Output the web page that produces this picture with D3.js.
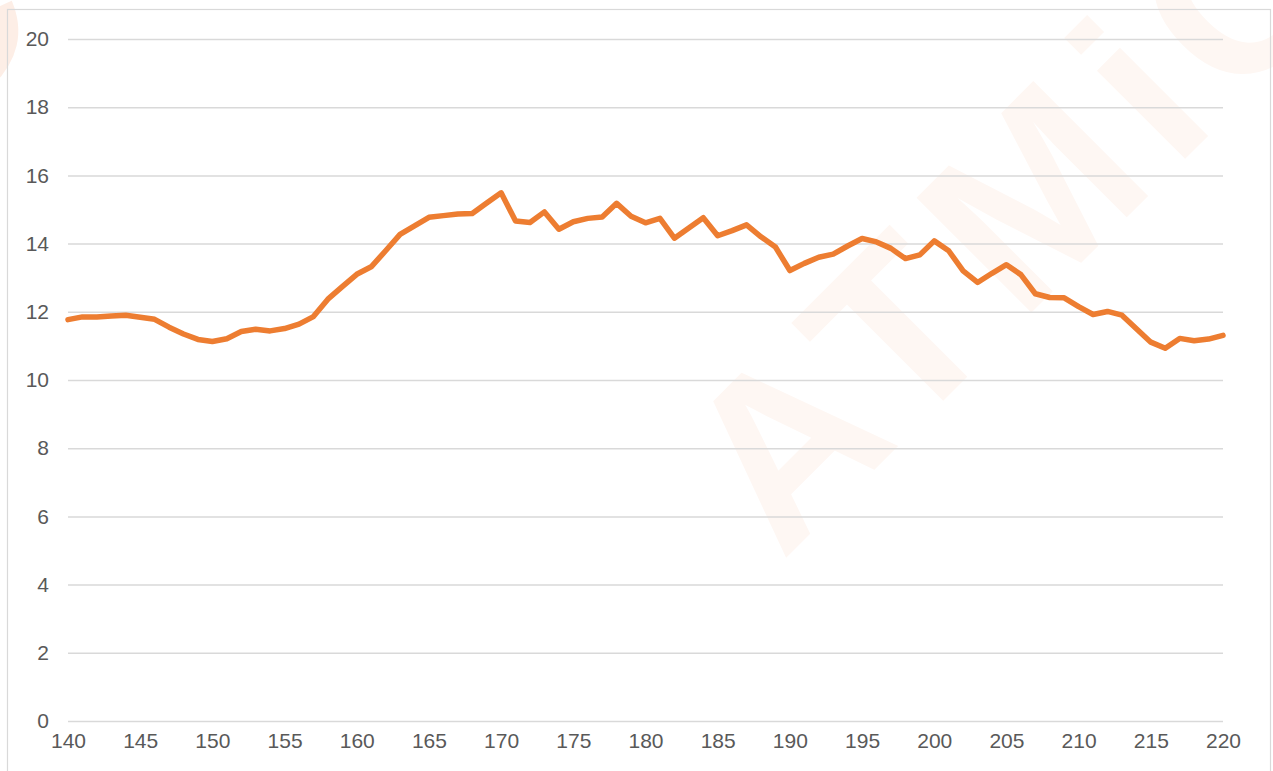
<!DOCTYPE html>
<html>
<head>
<meta charset="utf-8">
<script src="https://cdn.jsdelivr.net/npm/d3@7"></script>
<style>
  html, body { margin: 0; padding: 0; background: #fff; }
  svg { display: block; }
</style>
</head>
<body>
<svg id="chart" width="1273" height="771"></svg>
<script>
// ---- data ----
const xValues = d3.range(140, 221);
const yValues = [
  11.77, 11.85, 11.85, 11.88, 11.9, 11.84, 11.78, 11.55, 11.35, 11.19,
  11.13, 11.21, 11.42, 11.49, 11.44, 11.51, 11.64, 11.86, 12.37, 12.74,
  13.1, 13.32, 13.79, 14.27, 14.52, 14.77, 14.82, 14.87, 14.88, 15.19,
  15.49, 14.66, 14.62, 14.93, 14.42, 14.64, 14.74, 14.78, 15.18, 14.8,
  14.61, 14.74, 14.16, 14.46, 14.76, 14.23, 14.38, 14.55, 14.2, 13.9,
  13.21, 13.42, 13.6, 13.69, 13.93, 14.15, 14.05, 13.86, 13.56, 13.67,
  14.08, 13.79, 13.2, 12.86, 13.13, 13.38, 13.09, 12.53, 12.42, 12.41,
  12.15, 11.92, 12.01, 11.9, 11.5, 11.11, 10.93, 11.22, 11.15, 11.2,
  11.31
];
const xTicks = [140, 145, 150, 155, 160, 165, 170, 175, 180, 185, 190, 195, 200, 205, 210, 215, 220];
const yTicks = [0, 2, 4, 6, 8, 10, 12, 14, 16, 18, 20];
const watermarkText = "ATMiC";

// ---- layout ----
const svg = d3.select("#chart");
const x = d3.scaleLinear().domain([140, 220]).range([68, 1223]);
const y = d3.scaleLinear().domain([0, 20]).range([721, 39]);

// watermark
function watermark(tx, ty, fill) {
  svg.append("text")
    .attr("transform", `translate(${tx},${ty}) rotate(-45)`)
    .attr("font-family", "Liberation Sans, Arial, sans-serif")
    .attr("font-weight", "bold")
    .attr("font-size", 236)
    .attr("letter-spacing", 20)
    .attr("fill", fill)
    .text(watermarkText);
}
watermark(782, 562, "#fef7f3");
watermark(-525, 600, "#fdeee6");

// border
svg.append("rect")
  .attr("x", 7.5).attr("y", 9.5)
  .attr("width", 1263).attr("height", 775)
  .attr("fill", "none")
  .attr("stroke", "#d9d9d9")
  .attr("stroke-width", 1.2);

// gridlines via axis
const yGrid = d3.axisLeft(y).tickValues(yTicks).tickSize(-(1223 - 68)).tickFormat("");
svg.append("g")
  .attr("transform", "translate(68,0)")
  .call(yGrid)
  .call(g => g.select(".domain").remove())
  .call(g => g.selectAll("line").attr("stroke", "#d9d9d9").attr("stroke-width", 1.5));

// y labels
const yAxis = d3.axisLeft(y).tickValues(yTicks).tickSize(0).tickPadding(19).tickFormat(d3.format("d"));
svg.append("g")
  .attr("transform", "translate(68,0)")
  .call(yAxis)
  .call(g => g.select(".domain").remove())
  .call(g => g.selectAll("text")
    .attr("font-family", "Liberation Sans, Arial, sans-serif")
    .attr("font-size", 21)
    .attr("fill", "#595959"));

// x labels
const xAxis = d3.axisBottom(x).tickValues(xTicks).tickSize(0).tickPadding(12).tickFormat(d3.format("d"));
svg.append("g")
  .attr("transform", "translate(0,721)")
  .call(xAxis)
  .call(g => g.select(".domain").remove())
  .call(g => g.selectAll("text")
    .attr("font-family", "Liberation Sans, Arial, sans-serif")
    .attr("font-size", 21)
    .attr("fill", "#595959"));

// line
const line = d3.line()
  .x((d, i) => x(xValues[i]))
  .y(d => y(d));
svg.append("path")
  .datum(yValues)
  .attr("d", line)
  .attr("fill", "none")
  .attr("stroke", "#ED7D31")
  .attr("stroke-width", 5.5)
  .attr("stroke-linejoin", "round")
  .attr("stroke-linecap", "round");
</script>
</body>
</html>
